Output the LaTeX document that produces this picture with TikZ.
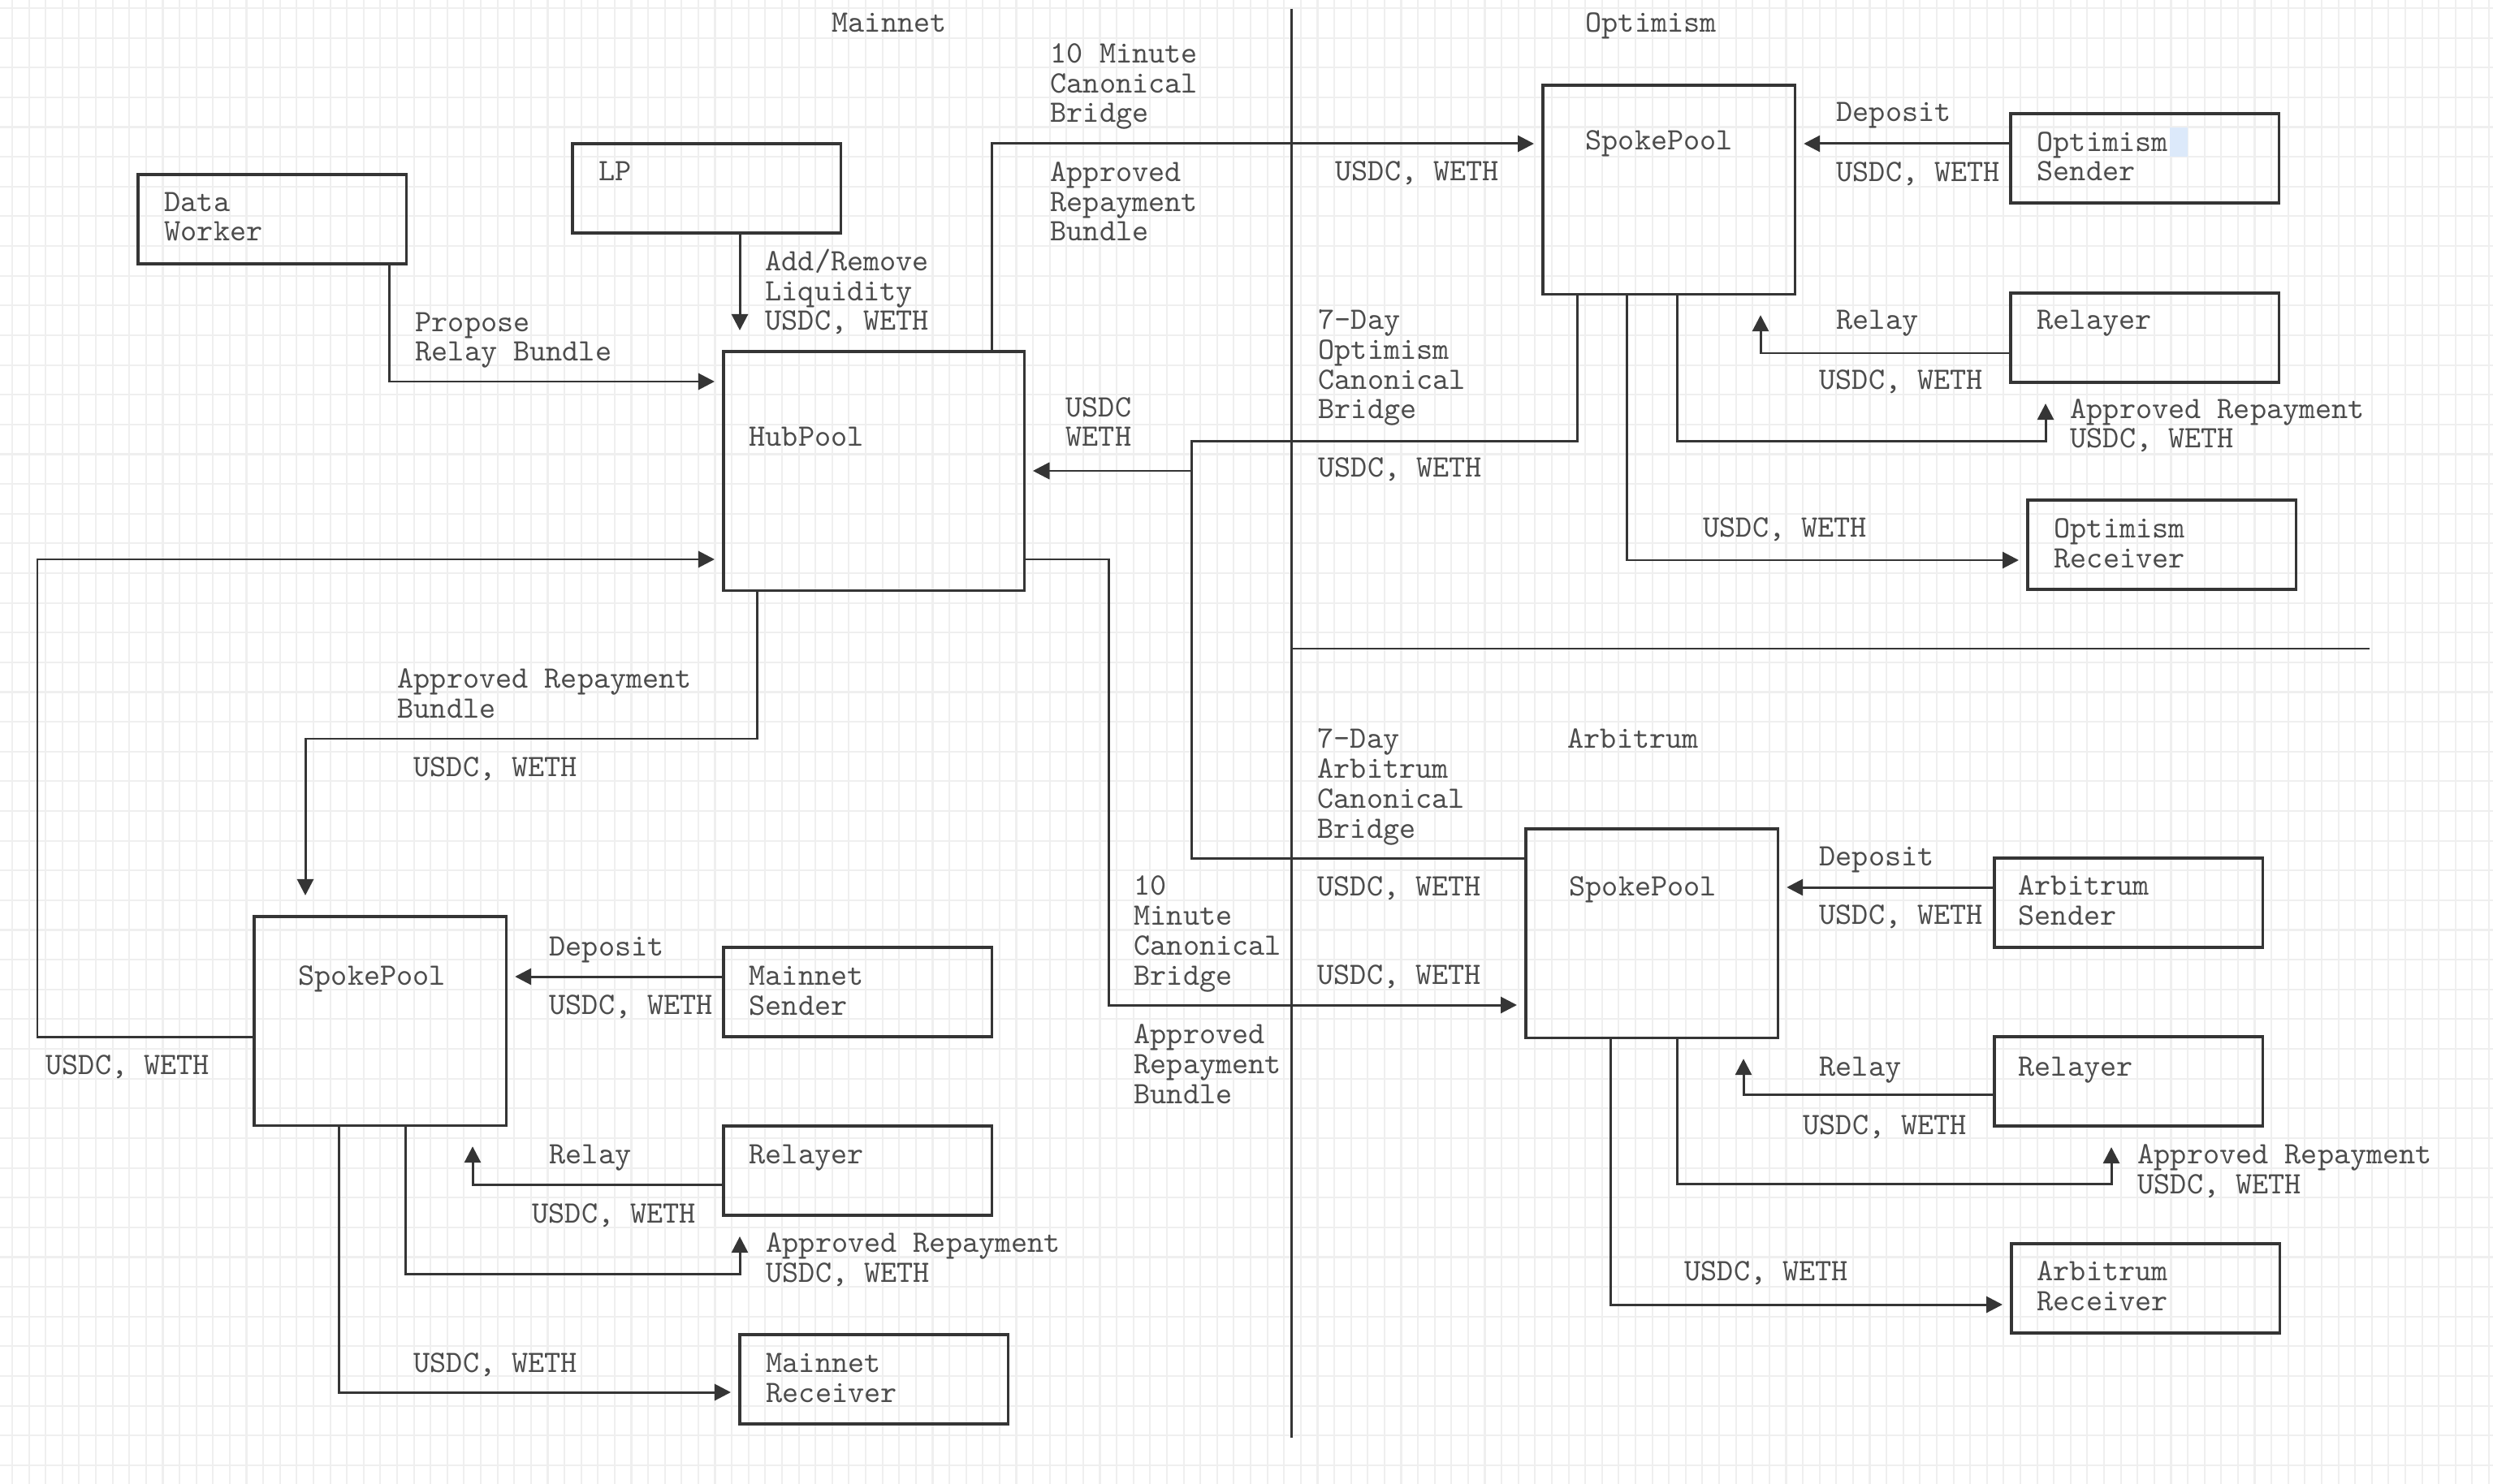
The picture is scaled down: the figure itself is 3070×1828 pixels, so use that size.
\documentclass[tikz,border=0pt]{standalone}
\usepackage{tikz}
\usetikzlibrary{arrows.meta,calc}

\definecolor{linegray}{HTML}{353535}
\definecolor{textgray}{HTML}{4C4C4C}
\definecolor{gridgray}{HTML}{EFEFEF}
\definecolor{selblue}{HTML}{DCE9FA}

\tikzset{
  box/.style={draw=linegray, line width=0.9pt, anchor=north west, inner sep=0pt,
    outer sep=0pt, minimum width=3.3cm, minimum height=1.1cm},
  pool/.style={box, minimum width=3.1cm, minimum height=2.57cm},
  % multi-line texts sit on the baseline of their last line
  lbl/.style={anchor=base west, inner sep=0pt, align=left, text=textgray,
    font=\ttfamily\fontsize{10.9pt}{10.5pt}\selectfont},
  flow/.style={draw=linegray, line width=0.85pt,
    -{Triangle[length=0.2cm,width=0.2cm]}, shorten >=0.11cm},
  vflow/.style={flow, shorten >=0.26cm},
  divider/.style={draw=linegray, line width=0.85pt},
}

\begin{document}
\begin{tikzpicture}[x=0.01cm, y=-0.01cm]
  \useasboundingbox (0,0) rectangle (3070,1828);
  \fill[white] (0,0) rectangle (3070,1828);
  % grid paper
  \foreach \i in {0,...,148}
    \draw[gridgray, line width=0.6pt] ({15+20.608*\i},0) -- ({15+20.608*\i},1828);
  \foreach \j in {0,...,49}
    \draw[gridgray, line width=0.6pt] (0,{10+36.63*\j}) -- (3070,{10+36.63*\j});

  % chain dividers
  \draw[divider] (1590,11) -- (1590,1771);
  \draw[divider] (1590,799) -- (2918,799);

  % boxes
  \node[box] (worker) at (170,215) {};
  \node[box] (lp) at (705,177) {};
  \node[box, minimum width=3.7cm, minimum height=2.94cm] (hub) at (891,433) {};
  \node[pool] (optPool) at (1900,105) {};
  \node[box] (optSender) at (2476,140) {};
  \node[box] (optRelayer) at (2476,361) {};
  \node[box] (optReceiver) at (2497,616) {};
  \node[pool] (arbPool) at (1879,1021) {};
  \node[box] (arbSender) at (2456,1057) {};
  \node[box] (arbRelayer) at (2456,1277) {};
  \node[box] (arbReceiver) at (2477,1532) {};
  \node[pool] (mainPool) at (313,1129) {};
  \node[box] (mainSender) at (891,1167) {};
  \node[box] (mainRelayer) at (891,1387) {};
  \node[box] (mainReceiver) at (911,1644) {};
  \coordinate (bridgeJoin) at (1467,580);

  % selection mark behind the sender text
  \fill[selblue] (2672,157) rectangle (2694,193);

  % mainnet hub
  \draw[flow] ($(worker.south west)+(309,0)$) |- ($(hub.north west)+(0,37)$);
  \draw[vflow] ($(lp.south west)+(206,0)$) -- ($(hub.north west)+(20,0)$);
  \draw[flow] ($(hub.north west)+(330,0)$) |- ($(optPool.north west)+(0,72)$);
  \draw[flow] ($(hub.north east)+(0,256)$) -- ++(104,0) |- ($(arbPool.north west)+(0,217)$);
  \draw[vflow] ($(hub.south west)+(41,0)$) |- ($(mainPool.north west)+(63,-219)$)
    -- ($(mainPool.north west)+(63,0)$);

  % optimism
  \draw[flow] ($(optSender.north west)+(0,37)$) -- ($(optPool.north east)+(0,72)$);
  \draw[vflow] ($(optRelayer.north west)+(0,74)$) -| ($(optPool.south west)+(268,0)$);
  \draw[vflow] ($(optPool.south west)+(165,0)$) |- ($(optRelayer.south west)+(43,72)$)
    -- ($(optRelayer.south west)+(43,0)$);
  \draw[flow] ($(optPool.south west)+(103,0)$) |- ($(optReceiver.north west)+(0,74)$);
  \draw[flow] ($(optPool.south west)+(42,0)$) -- ++(0,181) -| (bridgeJoin)
    -- (hub.east |- bridgeJoin);

  % arbitrum
  \draw[flow] ($(arbPool.north west)+(0,36)$) -| (bridgeJoin) -- (hub.east |- bridgeJoin);
  \draw[flow] ($(arbSender.north west)+(0,36)$) -- ($(arbPool.north east)+(0,72)$);
  \draw[vflow] ($(arbRelayer.north west)+(0,71)$) -| ($(arbPool.south west)+(268,0)$);
  \draw[vflow] ($(arbPool.south west)+(186,0)$) |- ($(arbRelayer.south west)+(144,71)$)
    -- ($(arbRelayer.south west)+(144,0)$);
  \draw[flow] ($(arbPool.south west)+(104,0)$) |- ($(arbReceiver.north west)+(0,75)$);

  % mainnet spoke
  \draw[flow] ($(mainPool.north west)+(0,148)$) -- ++(-267,0) |- ($(hub.north west)+(0,256)$);
  \draw[flow] ($(mainSender.north west)+(0,36)$) -- ($(mainPool.north east)+(0,74)$);
  \draw[vflow] ($(mainRelayer.north west)+(0,72)$) -| ($(mainPool.south west)+(269,0)$);
  \draw[vflow] ($(mainPool.south west)+(186,0)$) |- ($(mainRelayer.south west)+(20,72)$)
    -- ($(mainRelayer.south west)+(20,0)$);
  \draw[flow] ($(mainPool.south west)+(104,0)$) |- ($(mainReceiver.north west)+(0,71)$);

  % titles
  \node[lbl] (tMainnet) at (1024,40) {Mainnet};
  \node[lbl] (tOptimism) at (1952,40) {Optimism};
  \node[lbl] (tArbitrum) at (1930,921) {Arbitrum};

  % box texts
  \node[lbl] (tWorker) at (202,297) {Data\\Worker};
  \node[lbl] (tLp) at (737,223) {LP};
  \node[lbl] (tHub) at (922,550) {HubPool};
  \node[lbl] (tOptPool) at (1952,185) {SpokePool};
  \node[lbl] (tOptSender) at (2508,223) {Optimism\\Sender};
  \node[lbl] (tOptRelayer) at (2508,406) {Relayer};
  \node[lbl] (tOptReceiver) at (2529,699) {Optimism\\Receiver};
  \node[lbl] (tArbPool) at (1932,1103) {SpokePool};
  \node[lbl] (tArbSender) at (2485,1139) {Arbitrum\\Sender};
  \node[lbl] (tArbRelayer) at (2485,1325) {Relayer};
  \node[lbl] (tArbReceiver) at (2508,1614) {Arbitrum\\Receiver};
  \node[lbl] (tMainPool) at (367,1213) {SpokePool};
  \node[lbl] (tMainSender) at (922,1250) {Mainnet\\Sender};
  \node[lbl] (tMainRelayer) at (922,1433) {Relayer};
  \node[lbl] (tMainReceiver) at (943,1727) {Mainnet\\Receiver};

  % flow texts, mainnet hub
  \node[lbl] (lPropose) at (511,445) {Propose\\Relay Bundle};
  \node[lbl] (lLiquidity) at (942,407) {Add/Remove\\Liquidity\\USDC, WETH};
  \node[lbl] (lTenMin) at (1293,151) {10 Minute\\Canonical\\Bridge};
  \node[lbl] (lOptBundle) at (1293,297) {Approved\\Repayment\\Bundle};
  \node[lbl] (lOptTokens) at (1644,223) {USDC, WETH};
  \node[lbl] (lHubTokens) at (1312,550) {USDC\\WETH};
  \node[lbl] (lOptBridge) at (1623,516) {7-Day\\Optimism\\Canonical\\Bridge};
  \node[lbl] (lOptBack) at (1623,588) {USDC, WETH};

  % flow texts, optimism
  \node[lbl] (lOptDeposit) at (2261,150) {Deposit};
  \node[lbl] (lOptDepTok) at (2261,224) {USDC, WETH};
  \node[lbl] (lOptRelay) at (2261,406) {Relay};
  \node[lbl] (lOptRelTok) at (2240,480) {USDC, WETH};
  \node[lbl] (lOptRepay) at (2549,552) {Approved Repayment\\USDC, WETH};
  \node[lbl] (lOptRecv) at (2097,662) {USDC, WETH};

  % flow texts, arbitrum
  \node[lbl] (lArbBridge) at (1622,1032) {7-Day\\Arbitrum\\Canonical\\Bridge};
  \node[lbl] (lArbBack) at (1622,1103) {USDC, WETH};
  \node[lbl] (lArbTokens) at (1622,1212) {USDC, WETH};
  \node[lbl] (lTenMinArb) at (1396,1213) {10\\Minute\\Canonical\\Bridge};
  \node[lbl] (lArbBundle) at (1396,1359) {Approved\\Repayment\\Bundle};
  \node[lbl] (lArbDeposit) at (2240,1066) {Deposit};
  \node[lbl] (lArbDepTok) at (2240,1138) {USDC, WETH};
  \node[lbl] (lArbRelay) at (2240,1325) {Relay};
  \node[lbl] (lArbRelTok) at (2220,1397) {USDC, WETH};
  \node[lbl] (lArbRepay) at (2632,1470) {Approved Repayment\\USDC, WETH};
  \node[lbl] (lArbRecv) at (2074,1577) {USDC, WETH};

  % flow texts, mainnet spoke
  \node[lbl] (lMainBundle) at (489,884) {Approved Repayment\\Bundle};
  \node[lbl] (lMainTokens) at (509,956) {USDC, WETH};
  \node[lbl] (lMainBack) at (56,1323) {USDC, WETH};
  \node[lbl] (lMainDeposit) at (676,1177) {Deposit};
  \node[lbl] (lMainDepTok) at (676,1249) {USDC, WETH};
  \node[lbl] (lMainRelay) at (676,1433) {Relay};
  \node[lbl] (lMainRelTok) at (655,1506) {USDC, WETH};
  \node[lbl] (lMainRepay) at (943,1579) {Approved Repayment\\USDC, WETH};
  \node[lbl] (lMainRecv) at (509,1690) {USDC, WETH};
\end{tikzpicture}
\end{document}
